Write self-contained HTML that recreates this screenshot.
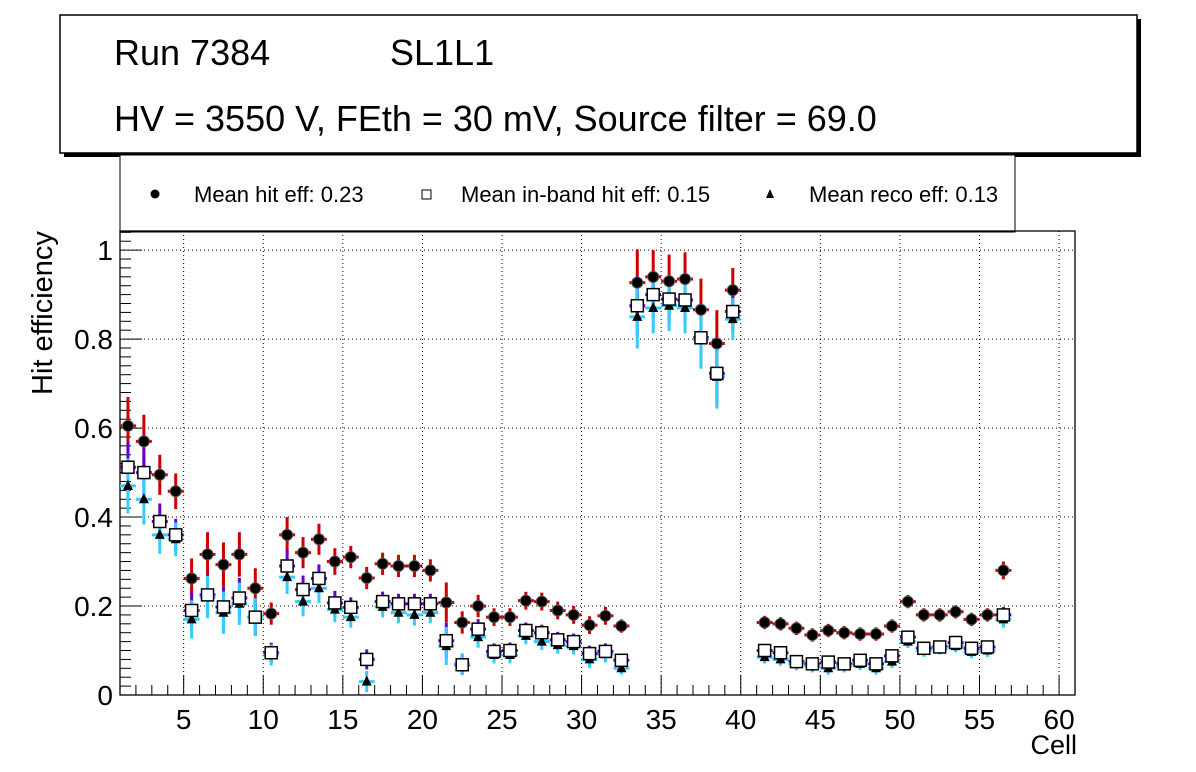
<!DOCTYPE html>
<html><head><meta charset="utf-8"><style>
html,body{margin:0;padding:0;background:#fff;}
svg{display:block;font-family:"Liberation Sans",sans-serif;}
</style></head><body>
<svg id="c" width="1196" height="772" viewBox="0 0 1196 772" xmlns="http://www.w3.org/2000/svg">
<rect x="64" y="19" width="1077" height="138" fill="#000"/>
<rect x="60" y="15" width="1077" height="138" fill="#fff" stroke="#000" stroke-width="1.5"/>
<text x="114" y="65" font-size="36">Run 7384</text>
<text x="390" y="65" font-size="36">SL1L1</text>
<text x="114" y="131" font-size="36">HV = 3550 V, FEth = 30 mV, Source filter = 69.0</text>
<rect x="120" y="155" width="895" height="77" fill="#fff" stroke="#000" stroke-width="1"/>
<g><circle cx="155" cy="194" r="4.5" fill="#000"/><text x="194" y="202" font-size="22">Mean hit  eff: 0.23</text></g>
<g><rect x="422" y="190" width="9" height="9" fill="#fff" stroke="#000"/><text x="461" y="202" font-size="22">Mean in-band hit eff: 0.15</text></g>
<g><polygon points="770,189 766,198 774,198" fill="#000"/><text x="809" y="202" font-size="22">Mean reco eff: 0.13</text></g>
<g id="axes"></g>
<g id="errs"></g>
<g id="marks"></g>
<text x="52" y="313" font-size="29" transform="rotate(-90 52 313)" text-anchor="middle">Hit efficiency</text>
<text x="1077" y="754" font-size="27" text-anchor="end">Cell</text>
</svg>
<script>
const cells=[1,2,3,4,5,6,7,8,9,10,11,12,13,14,15,16,17,18,19,20,21,22,23,24,25,26,27,28,29,30,31,32,33,34,35,36,37,38,39,41,42,43,44,45,46,47,48,49,50,51,52,53,54,55,56];
const hitEff=[.605,.57,.495,.458,.262,.316,.293,.316,.24,.183,.36,.32,.35,.30,.31,.263,.295,.29,.29,.28,.208,.163,.2,.175,.175,.212,.21,.19,.18,.157,.178,.155,.927,.94,.93,.935,.866,.79,.91,.163,.16,.15,.135,.145,.14,.137,.137,.155,.21,.18,.18,.187,.17,.18,.28];
const hitErr=[.065,.06,.045,.04,.045,.05,.05,.05,.045,.025,.04,.035,.035,.03,.025,.025,.025,.025,.025,.025,.045,.025,.025,.02,.02,.02,.02,.02,.02,.02,.02,.015,.075,.06,.06,.06,.07,.075,.05,.015,.015,.015,.015,.015,.015,.015,.015,.015,.015,.015,.015,.015,.015,.015,.02];
const inbandEff=[.512,.50,.39,.36,.19,.225,.198,.218,.175,.095,.29,.237,.262,.207,.197,.08,.21,.205,.205,.205,.122,.068,.148,.098,.1,.145,.14,.124,.12,.093,.098,.078,.875,.9,.89,.888,.803,.723,.862,.10,.095,.075,.07,.074,.07,.078,.07,.088,.13,.105,.108,.118,.105,.108,.18];
const recoEff=[.47,.44,.36,.35,.17,.22,.185,.205,.175,.09,.265,.21,.24,.192,.175,.03,.198,.185,.18,.185,.11,.07,.13,.09,.09,.133,.12,.112,.11,.08,.092,.06,.85,.87,.875,.87,.80,.715,.845,.085,.08,.07,.065,.06,.065,.07,.06,.075,.12,.1,.105,.11,.097,.1,.17];
const xTicks=[5,10,15,20,25,30,35,40,45,50,55,60];
const yTicks=[0,0.2,0.4,0.6,0.8,1];
const yTickLabels=["0","0.2","0.4","0.6","0.8","1"];
const X0=120,X1=1075,Y0=695,Y1=231,XMIN=1,XMAX=61,YMAX=1.043;
const NS="http://www.w3.org/2000/svg";
function sx(v){return X0+(v-XMIN)/(XMAX-XMIN)*(X1-X0);}
function sy(v){return Y0-v/YMAX*(Y0-Y1);}
function mk(tag,a,parent){const e=document.createElementNS(NS,tag);for(const k in a)e.setAttribute(k,a[k]);parent.appendChild(e);return e;}
const ax=document.getElementById('axes'),eg=document.getElementById('errs'),mg=document.getElementById('marks');
for(const t of xTicks){const l=mk('line',{x1:sx(t),x2:sx(t),y1:Y1,y2:Y0,stroke:'#000','stroke-width':1,'stroke-dasharray':'1,3'},ax);

}
for(const t of yTicks.slice(1)){const l=mk('line',{x1:X0,x2:X1,y1:sy(t),y2:sy(t),stroke:'#000','stroke-width':1,'stroke-dasharray':'1,3'},ax);

}
const fr=mk('rect',{x:X0,y:Y1,width:X1-X0,height:Y0-Y1,fill:'none',stroke:'#000','stroke-width':1.3},ax);


for(let v=2;v<=61;v++){const big=v%5==0;mk('line',{x1:sx(v),x2:sx(v),y1:Y0,y2:Y0-(big?20:10),stroke:'#000','stroke-width':1},ax);}
for(let i=0;i<=52;i++){const v=i*0.02;if(v>YMAX)break;const big=i%10==0;mk('line',{x1:X0,x2:X0+(big?22:11),y1:sy(v),y2:sy(v),stroke:'#000','stroke-width':1},ax);}
xTicks.forEach(t=>{const e=mk('text',{x:sx(t),y:729,'font-size':28,'text-anchor':'middle'},ax);e.textContent=t;

});
yTicks.forEach((t,i)=>{const e=mk('text',{x:113,y:sy(t)+10,'font-size':28,'text-anchor':'end'},ax);e.textContent=yTickLabels[i];

});
const hw=(X1-X0)/(XMAX-XMIN)/2;
const series=[
 {vals:hitEff,scale:1.0,color:'#cc0000',name:'hit'},
 {vals:inbandEff,scale:0.9,color:'#6600cc',name:'inband'},
 {vals:recoEff,scale:0.95,color:'#33ccff',name:'reco'}];
series.forEach(s=>{
 cells.forEach((c,i)=>{
  const cx=sx(c+0.5),y=sy(s.vals[i]),e=hitErr[i]*s.scale*(Y0-Y1)/YMAX;
  const g=mk('g',{},eg);
  
  
  mk('line',{x1:cx,x2:cx,y1:y-e,y2:y+e,stroke:s.color,'stroke-width':3},g);
  mk('line',{x1:cx-hw,x2:cx+hw,y1:y,y2:y,stroke:s.color,'stroke-width':3},g);
 });
});
cells.forEach((c,i)=>{
 const cx=sx(c+0.5);
 let y=sy(recoEff[i]);
 const t=mk('polygon',{points:`${cx},${y-6} ${cx-5},${y+4} ${cx+5},${y+4}`,fill:'#000'},mg);
 
 
 y=sy(inbandEff[i]);
 const r=mk('rect',{x:cx-6,y:y-6,width:12,height:12,fill:'#fff',stroke:'#000','stroke-width':1.5},mg);
 
 
 y=sy(hitEff[i]);
 const d=mk('circle',{cx:cx,cy:y,r:5.5,fill:'#000',stroke:'#555','stroke-width':1},mg);
 
 
});
</script>
</body></html>
